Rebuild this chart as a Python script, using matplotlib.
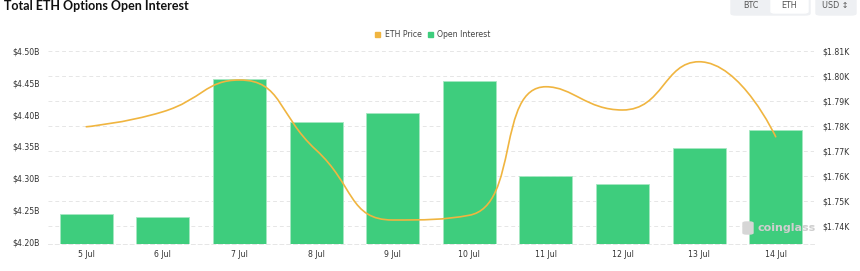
#!/usr/bin/env python3
import numpy as np
import matplotlib
matplotlib.use("Agg")
import matplotlib.pyplot as plt
from matplotlib.path import Path
from matplotlib.patches import PathPatch, FancyBboxPatch

# Data
days = ["5 Jul", "6 Jul", "7 Jul", "8 Jul", "9 Jul",
        "10 Jul", "11 Jul", "12 Jul", "13 Jul", "14 Jul"]
open_interest = [4.243, 4.2385, 4.456, 4.388, 4.402,
                 4.453, 4.303, 4.290, 4.347, 4.376]   # $B
eth_price = [1.7797, 1.7857, 1.7984, 1.7704, 1.7424,
             1.7443, 1.7957, 1.7864, 1.8057, 1.7757]  # $K
left_ticks = [4.20, 4.25, 4.30, 4.35, 4.40, 4.45, 4.50]
right_ticks = [1.74, 1.75, 1.76, 1.77, 1.78, 1.79, 1.80, 1.81]

GREEN = "#3ecd7d"
ORANGE = "#f0b540"
TICK_COLOR = "#333333"
GRID_COLOR = "#e6e6e6"


def smooth_path(x, y, sx, sy, smooth=0.5):
    """Cubic bezier path through the points, echarts-like smoothing
    (control points clamped so the curve does not overshoot)."""
    P = np.column_stack([np.asarray(x, float) * sx, np.asarray(y, float) * sy])
    n = len(P)
    verts = [P[0]]
    codes = [Path.MOVETO]
    next_cp0 = P[0].copy()
    for i in range(1, n):
        p = P[i]
        prev = P[i - 1]
        if i == n - 1:
            cp1 = p.copy()
        else:
            nxt = P[i + 1]
            v = nxt - prev
            len_prev = np.hypot(*(p - prev))
            len_next = np.hypot(*(nxt - p))
            ratio_next = len_next / (len_prev + len_next)
            ncp0 = p + v * smooth * ratio_next
            ncp0 = np.minimum(ncp0, np.maximum(nxt, p))
            ncp0 = np.maximum(ncp0, np.minimum(nxt, p))
            v = ncp0 - p
            cp1 = p - v * len_prev / len_next
            cp1 = np.minimum(cp1, np.maximum(prev, p))
            cp1 = np.maximum(cp1, np.minimum(prev, p))
            v = p - cp1
            ncp0 = p + v * len_next / len_prev
        verts += [next_cp0, cp1, p]
        codes += [Path.CURVE4] * 3
        if i < n - 1:
            next_cp0 = ncp0
    verts = np.array(verts) / [sx, sy]
    return Path(verts, codes)


W, H = 860, 271
fig = plt.figure(figsize=(W / 100, H / 100), dpi=100)
fig.patch.set_facecolor("white")
rect = [48 / W, (H - 244) / H, (814 - 48) / W, (244 - 51) / H]

x = np.arange(len(days))

# grid axes (price scale), drawn first so bars cover the grid lines
ax_grid = fig.add_axes(rect)
ax_bar = ax_grid.twinx()
ax_line = ax_grid.twinx()

ax_grid.set_ylim(1.7328, 1.81)
ax_grid.yaxis.tick_right()
ax_grid.set_yticks(right_ticks)
ax_grid.set_yticklabels(["${:.2f}K".format(v) for v in right_ticks])
ax_grid.grid(axis="y", color=GRID_COLOR, linestyle=(0, (4, 3)), linewidth=0.7)
ax_grid.set_xlim(-0.5, len(days) - 0.5)
ax_grid.set_xticks(x)
ax_grid.set_xticklabels(days)
for sp in ["top", "left", "right"]:
    ax_grid.spines[sp].set_visible(False)
ax_grid.spines["bottom"].set_color(GRID_COLOR)
ax_grid.spines["bottom"].set_linestyle((0, (4, 3)))
ax_grid.spines["bottom"].set_linewidth(0.7)
ax_grid.tick_params(axis="both", length=0, labelsize=5.6, labelcolor=TICK_COLOR)
ax_grid.tick_params(axis="y", pad=6)
ax_grid.tick_params(axis="x", pad=4)

# bars (open interest, left scale)
ax_bar.bar(x, open_interest, width=0.69, bottom=0, color=GREEN,
           edgecolor="#a6e8c2", linewidth=0.6, zorder=2)
ax_bar.set_ylim(4.1964, 4.50)
ax_bar.yaxis.tick_left()
ax_bar.set_yticks(left_ticks)
ax_bar.set_yticklabels(["${:.2f}B".format(v) for v in left_ticks])
ax_bar.tick_params(axis="y", length=0, labelsize=5.6, labelcolor=TICK_COLOR, pad=6)
for sp in ax_bar.spines.values():
    sp.set_visible(False)

# line (eth price, right scale)
ax_line.set_ylim(ax_grid.get_ylim())
ax_line.set_yticks([])
for sp in ax_line.spines.values():
    sp.set_visible(False)
path = smooth_path(x, eth_price, 76.8, 2500.0)
ax_line.add_patch(PathPatch(path, facecolor="none", edgecolor=ORANGE,
                            linewidth=1.2, capstyle="round"))

# watermark
fig.text(757 / W, 1 - 228 / H, "coinglass", fontsize=8, color="#cfcfcf",
         fontweight="bold", va="center", ha="left")
fig.patches.append(FancyBboxPatch((743 / W, 1 - 234 / H), 10 / W, 12 / H,
                                  boxstyle="round,pad=0,rounding_size=0.004",
                                  color="#d6d6d6", transform=fig.transFigure))

# title
fig.text(4 / W, 1 - 9.5 / H, "Total ETH Options Open Interest", fontsize=9,
         fontweight="bold", family="Lato", color="#111111",
         va="baseline", ha="left")

# legend
fig.patches.append(FancyBboxPatch((375 / W, 1 - 37 / H), 5 / W, 5 / H,
                                  boxstyle="square,pad=0", color=ORANGE,
                                  transform=fig.transFigure))
fig.text(385 / W, 1 - 34.5 / H, "ETH Price", fontsize=5.6, color="#444444",
         va="center", ha="left")
fig.patches.append(FancyBboxPatch((428 / W, 1 - 37 / H), 5 / W, 5 / H,
                                  boxstyle="square,pad=0", color=GREEN,
                                  transform=fig.transFigure))
fig.text(437 / W, 1 - 34.5 / H, "Open Interest", fontsize=5.6, color="#444444",
         va="center", ha="left")

# currency switch buttons
fig.patches.append(FancyBboxPatch((731 / W, 1 - 15 / H), 79 / W, 20 / H,
                                  boxstyle="round,pad=0,rounding_size=0.006",
                                  color="#eef0f3", transform=fig.transFigure))
fig.patches.append(FancyBboxPatch((771 / W, 1 - 13 / H), 37 / W, 18 / H,
                                  boxstyle="round,pad=0,rounding_size=0.005",
                                  color="white", transform=fig.transFigure))
fig.patches.append(FancyBboxPatch((816 / W, 1 - 15 / H), 40 / W, 20 / H,
                                  boxstyle="round,pad=0,rounding_size=0.006",
                                  color="#eef0f3", transform=fig.transFigure))
fig.text(751 / W, 1 - 5 / H, "BTC", fontsize=5.8, color="#555555",
         va="center", ha="center")
fig.text(789 / W, 1 - 5 / H, "ETH", fontsize=5.8, color="#555555",
         va="center", ha="center")
fig.text(835 / W, 1 - 5 / H, "USD \u2195", fontsize=5.8, color="#555555",
         va="center", ha="center")

fig.savefig("out.png", dpi=100, facecolor="white")
